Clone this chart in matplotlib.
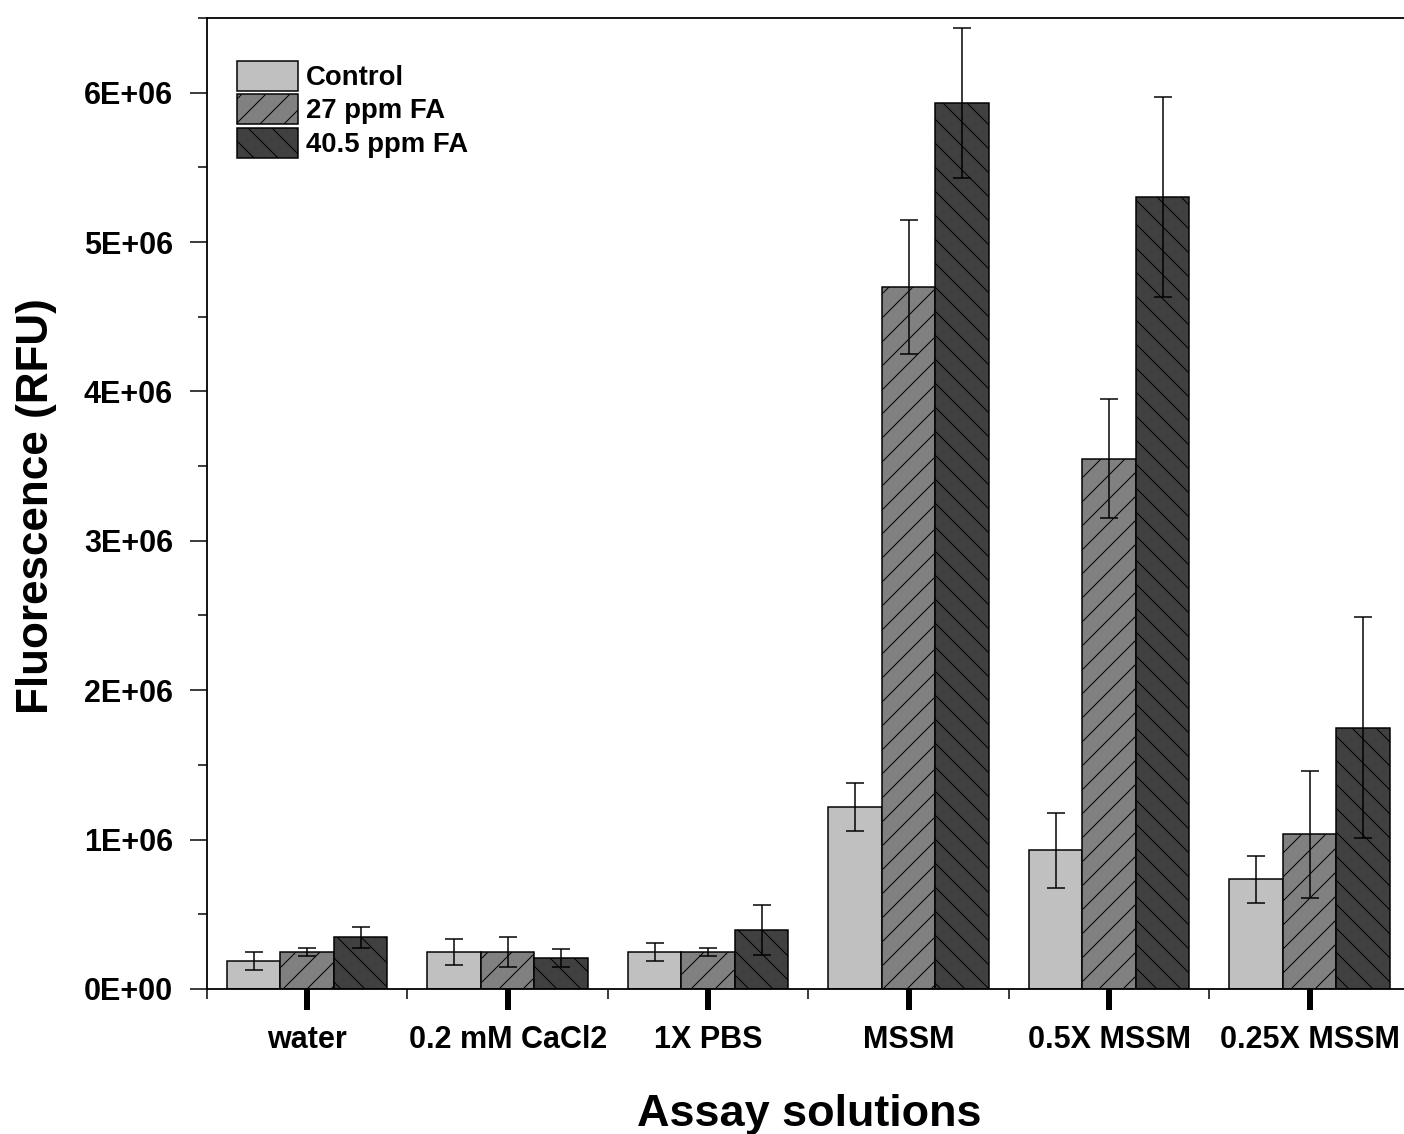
import numpy as np
import matplotlib
matplotlib.use('Agg')
import matplotlib.pyplot as plt
from matplotlib.ticker import FuncFormatter, MultipleLocator, FixedLocator

plt.rcParams['font.family'] = ['Liberation Sans', 'DejaVu Sans']
plt.rcParams['font.weight'] = 'bold'
plt.rcParams['hatch.linewidth'] = 1.0

# data (RFU)
categories = ['water', '0.2 mM CaCl2', '1X PBS', 'MSSM', '0.5X MSSM', '0.25X MSSM']
series_names = ['Control', '27 ppm FA', '40.5 ppm FA']
control = [0.187e6, 0.247e6, 0.247e6, 1.217e6, 0.928e6, 0.734e6]
control_err = [0.06e6, 0.085e6, 0.06e6, 0.16e6, 0.25e6, 0.157e6]
fa27 = [0.247e6, 0.247e6, 0.247e6, 4.70e6, 3.55e6, 1.035e6]
fa27_err = [0.027e6, 0.10e6, 0.027e6, 0.45e6, 0.40e6, 0.425e6]
fa405 = [0.346e6, 0.21e6, 0.395e6, 5.93e6, 5.30e6, 1.75e6]
fa405_err = [0.07e6, 0.06e6, 0.17e6, 0.50e6, 0.67e6, 0.74e6]

DPI = 72
fig = plt.figure(figsize=(1404 / DPI, 1134 / DPI), dpi=DPI)
ax = fig.add_axes([0.1474, 0.1279, 0.8568, 0.8563])

x = np.arange(len(categories))
w = 0.267
styles = [('#c0c0c0', ''), ('#808080', '/'), ('#404040', '\\')]
vals = [(control, control_err), (fa27, fa27_err), (fa405, fa405_err)]
ekw = dict(elinewidth=1.5, capthick=1.5, ecolor='black')
for i, ((v, e), (col, hatch), name) in enumerate(zip(vals, styles, series_names)):
    ax.bar(x + (i - 1) * w, v, w, yerr=e, color=col, hatch=hatch,
           edgecolor='black', linewidth=1.5, capsize=9, error_kw=ekw, label=name)

ax.set_xlim(-0.5, 5.5)
ax.set_ylim(0, 6.5e6)

ax.yaxis.set_major_locator(MultipleLocator(1e6))
ax.yaxis.set_minor_locator(MultipleLocator(0.5e6))
ax.yaxis.set_major_formatter(FuncFormatter(lambda v, p: f'{v:.0E}'))
ax.tick_params(axis='y', which='major', length=17, width=1.5, pad=17, labelsize=30.5)
ax.tick_params(axis='y', which='minor', length=9, width=1.5)

ax.set_xticks(x)
ax.set_xticklabels(categories)
ax.xaxis.set_minor_locator(FixedLocator(np.arange(-0.5, 6.0, 1.0)))
ax.tick_params(axis='x', which='major', length=21, width=6, pad=15, labelsize=30.5)
ax.tick_params(axis='x', which='minor', length=10, width=1.5)

for s in ['left', 'bottom', 'top', 'right']:
    ax.spines[s].set_linewidth(1.8)

ax.set_ylabel('Fluorescence (RFU)', fontsize=44, fontweight='bold')
ax.yaxis.set_label_coords(-0.125, 0.497)
ax.set_xlabel('Assay solutions', fontsize=45, fontweight='bold')
ax.xaxis.set_label_coords(0.501, -0.108)

ax.legend(loc='upper left', bbox_to_anchor=(0.025, 0.956), frameon=False,
          fontsize=27.5, handlelength=2.2, handleheight=1.3, labelspacing=0.12,
          handletextpad=0.3, borderpad=0, borderaxespad=0)

fig.savefig('out.png', dpi=DPI)
